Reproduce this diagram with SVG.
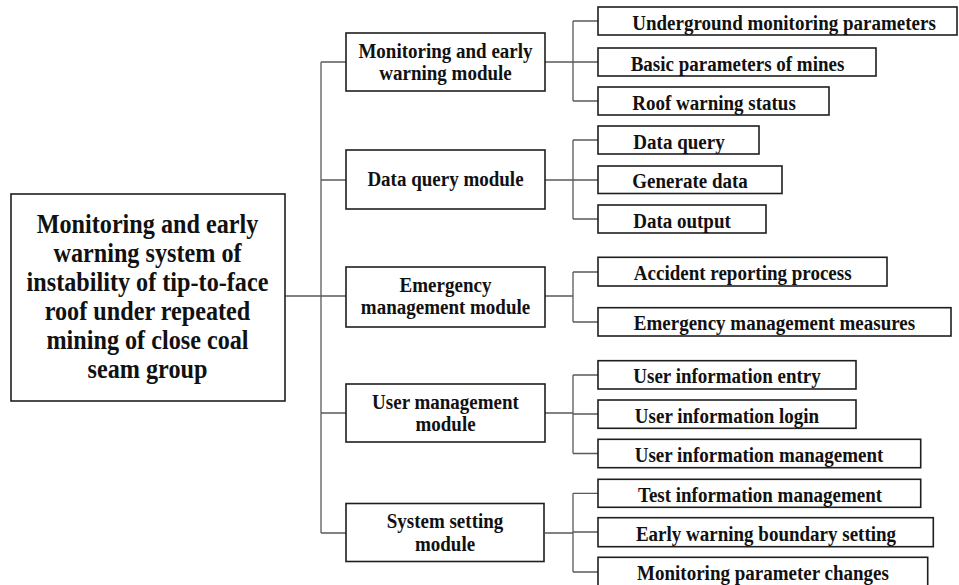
<svg xmlns="http://www.w3.org/2000/svg" width="959" height="585" viewBox="0 0 959 585">
<style>
.box{fill:#fff;stroke:#1e1e1e;stroke-width:1.6}
.con{fill:none;stroke:#5a5a5a;stroke-width:1.3}
text{font-family:"Liberation Serif","Times New Roman",serif;font-weight:bold;fill:#111;text-anchor:middle}
.r{font-size:24.2px}
.m{font-size:19px}
.l{font-size:19px}
</style>
<rect width="959" height="585" fill="#fff"/>
<g id="connectors">
<path class="con" d="M285,296H321M321,62V533M321,62H346M321,180H346M321,296H346M321,413H346M321,533H346"/>
<path class="con" d="M545,62H573M573,21V101M573,21H598M573,62H598M573,101H598"/>
<path class="con" d="M545,180H573M573,140V219M573,140H598M573,180H598M573,219H598"/>
<path class="con" d="M545,296H573M573,272V322M573,272H598M573,322H598"/>
<path class="con" d="M545,413H573M573,375V453.5M573,375H598M573,414H598M573,453.5H598"/>
<path class="con" d="M545,533H573M573,493.3V572M573,493.3H598M573,532H598M573,572H598"/>
</g>
<g id="root">
<rect class="box" x="11" y="194" width="274" height="207"/>
<text class="r" transform="translate(147.5,232.5) scale(1,1.15)">Monitoring and early</text>
<text class="r" transform="translate(147.5,261.5) scale(1,1.15)">warning system of</text>
<text class="r" transform="translate(147.5,290.5) scale(1,1.15)">instability of tip-to-face</text>
<text class="r" transform="translate(147.5,319.5) scale(1,1.15)">roof under repeated</text>
<text class="r" transform="translate(147.5,348.5) scale(1,1.15)">mining of close coal</text>
<text class="r" transform="translate(147.5,377.5) scale(1,1.15)">seam group</text>
</g>
<g id="m1">
<rect class="box" x="346" y="33" width="199" height="58"/>
<text class="m" transform="translate(445.5,57.5) scale(1,1.15)">Monitoring and early</text>
<text class="m" transform="translate(445.5,80) scale(1,1.15)">warning module</text>
</g>
<g id="m2">
<rect class="box" x="346" y="150" width="199" height="59"/>
<text class="m" transform="translate(445.5,186) scale(1,1.15)">Data query module</text>
</g>
<g id="m3">
<rect class="box" x="346" y="267" width="199" height="60"/>
<text class="m" transform="translate(445.5,291.7) scale(1,1.15)">Emergency</text>
<text class="m" transform="translate(445.5,314) scale(1,1.15)">management module</text>
</g>
<g id="m4">
<rect class="box" x="346" y="384" width="199" height="58"/>
<text class="m" transform="translate(445.5,408.5) scale(1,1.15)">User management</text>
<text class="m" transform="translate(445.5,431) scale(1,1.15)">module</text>
</g>
<g id="m5">
<rect class="box" x="346" y="503.5" width="198" height="58"/>
<text class="m" transform="translate(445,528.3) scale(1,1.15)">System setting</text>
<text class="m" transform="translate(445,550.5) scale(1,1.15)">module</text>
</g>
<g id="l1"><rect class="box" x="598" y="7" width="359" height="28"/><text class="l" transform="translate(784,29.5) scale(1,1.15)">Underground monitoring parameters</text></g>
<g id="l2"><rect class="box" x="598" y="48" width="278" height="28"/><text class="l" transform="translate(737.5,70.5) scale(1,1.15)">Basic parameters of mines</text></g>
<g id="l3"><rect class="box" x="598" y="87" width="231" height="28"/><text class="l" transform="translate(714,109.5) scale(1,1.15)">Roof warning status</text></g>
<g id="l4"><rect class="box" x="598" y="126" width="161" height="28"/><text class="l" transform="translate(679,148.7) scale(1,1.15)">Data query</text></g>
<g id="l5"><rect class="box" x="598" y="166" width="184" height="27.5"/><text class="l" transform="translate(690,188.3) scale(1,1.15)">Generate data</text></g>
<g id="l6"><rect class="box" x="598" y="205" width="168" height="28"/><text class="l" transform="translate(682,227.5) scale(1,1.15)">Data output</text></g>
<g id="l7"><rect class="box" x="598" y="257.3" width="289" height="28.7"/><text class="l" transform="translate(742.7,280) scale(1,1.15)">Accident reporting process</text></g>
<g id="l8"><rect class="box" x="598" y="307.7" width="353" height="28.3"/><text class="l" transform="translate(774.5,330.3) scale(1,1.15)">Emergency management measures</text></g>
<g id="l9"><rect class="box" x="598" y="360.7" width="258" height="28.3"/><text class="l" transform="translate(727,383.3) scale(1,1.15)">User information entry</text></g>
<g id="l10"><rect class="box" x="598" y="400" width="258" height="28.3"/><text class="l" transform="translate(727,422.6) scale(1,1.15)">User information login</text></g>
<g id="l11"><rect class="box" x="598" y="439.3" width="322.7" height="28.4"/><text class="l" transform="translate(759,462) scale(1,1.15)">User information management</text></g>
<g id="l12"><rect class="box" x="598" y="479.3" width="322.7" height="28"/><text class="l" transform="translate(760,501.7) scale(1,1.15)">Test information management</text></g>
<g id="l13"><rect class="box" x="598" y="517.7" width="335.3" height="29"/><text class="l" transform="translate(766,540.5) scale(1,1.15)">Early warning boundary setting</text></g>
<g id="l14"><rect class="box" x="598" y="557.3" width="329.7" height="29"/><text class="l" transform="translate(763,580) scale(1,1.15)">Monitoring parameter changes</text></g>
</svg>
